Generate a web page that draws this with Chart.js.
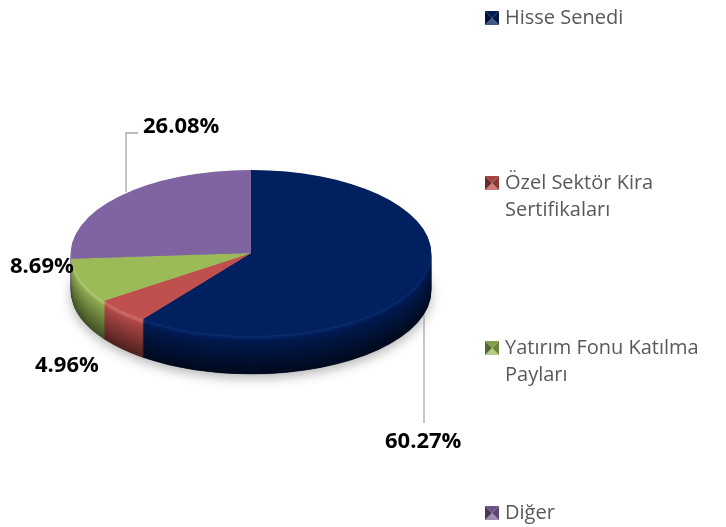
<!DOCTYPE html>
<html><head><meta charset="utf-8">
<script src="https://cdn.jsdelivr.net/npm/chart.js@4/dist/chart.umd.min.js"></script>
<style>html,body{margin:0;padding:0;background:#fff}#wrap{width:726px;height:527px;position:relative}</style>
</head><body><div id="wrap"><canvas id="c" width="726" height="527"></canvas></div>
<script>
// ---- data ----
const categories = ["Hisse Senedi", "Özel Sektör Kira Sertifikaları", "Yatırım Fonu Katılma Payları", "Diğer"];
const shares = [60.27, 4.96, 8.69, 26.08];
const colors = ["#002060", "#C0504D", "#9BBB59", "#8064A2"];

// ---- layout (not data) ----
const TILT = 83 / 180;      // vertical squash of the pie
const DEPTH = 38;           // thickness of the 3D side
const labelPos = [[385, 448], [35, 372], [10, 273], [143, 133]];
const leaders = [
  [[424, 315], [424, 423]],
  null,
  null,
  [[138, 133], [126, 133], [126, 192]]
];
const legendX = 485, legendTextX = 505, legendTop = 24, legendStep = 165, legendLine = 27, legendMaxW = 215;

function hexToRgb(h){h=h.replace('#','');return [0,2,4].map(i=>parseInt(h.substr(i,2),16));}
function shade(hex, f){
  const c = hexToRgb(hex);
  const r = c.map(v => f >= 0 ? Math.round(v + (255 - v) * f) : Math.round(v * (1 + f)));
  return 'rgb(' + r.join(',') + ')';
}
function sideFactor(t){
  if (t < 0.12) return 0.18 - t;           // thin highlight at top of rim
  return -(0.08 + 0.5 * (t - 0.12) / 0.88);
}

const pie3d = {
  id: 'pie3d',
  beforeDatasetsDraw(chart){
    const ctx = chart.ctx;
    const meta = chart.getDatasetMeta(0);
    const a0 = meta.data[0];
    const cx = a0.x, cy = a0.y, R = a0.outerRadius;
    // soft shadow under the pie
    ctx.save();
    ctx.translate(cx, cy + DEPTH);
    ctx.scale(1, TILT);
    ctx.shadowColor = 'rgba(0,0,0,0.30)';
    ctx.shadowBlur = 12;
    ctx.shadowOffsetY = 4;
    ctx.beginPath(); ctx.arc(0, 0, R, 0, Math.PI * 2);
    ctx.fillStyle = '#333'; ctx.fill();
    ctx.restore();
    // side layers
    for (let d = DEPTH; d >= 1; d--) {
      ctx.save();
      ctx.translate(cx, cy + d);
      ctx.scale(1, TILT);
      meta.data.forEach((arc, i) => {
        ctx.beginPath();
        ctx.moveTo(0, 0);
        ctx.arc(0, 0, arc.outerRadius, arc.startAngle, arc.endAngle);
        ctx.closePath();
        const c = i === 0 ? shade(colors[i], sideFactor(d / DEPTH) - 0.1) : shade(colors[i], sideFactor(d / DEPTH));
        ctx.fillStyle = c; ctx.strokeStyle = c; ctx.lineWidth = 0.6;
        ctx.fill(); ctx.stroke();
      });
      ctx.restore();
    }
    // squash the real top face
    ctx.save();
    ctx.translate(cx, cy);
    ctx.scale(1, TILT);
    ctx.translate(-cx, -cy);
  },
  afterDatasetsDraw(chart){
    chart.ctx.restore();
  },
  afterDraw(chart){
    const ctx = chart.ctx;
    // leader lines
    ctx.save();
    ctx.strokeStyle = '#A6A6A6'; ctx.lineWidth = 1.3;
    leaders.forEach(l => {
      if (!l) return;
      ctx.beginPath();
      l.forEach((p, j) => j ? ctx.lineTo(p[0], p[1]) : ctx.moveTo(p[0], p[1]));
      ctx.stroke();
    });
    // percentage labels
    ctx.fillStyle = '#000';
    ctx.font = 'bold 22px "Open Sans"';
    ctx.textAlign = 'left'; ctx.textBaseline = 'alphabetic';
    shares.forEach((v, i) => ctx.fillText(v.toFixed(2) + '%', labelPos[i][0], labelPos[i][1]));
    // legend
    ctx.font = '20px "Open Sans"';
    chart.data.labels.forEach((lab, i) => {
      const base = legendTop + i * legendStep;
      // wrap
      const words = lab.split(' ');
      const lines = []; let cur = '';
      words.forEach(w => {
        const t = cur ? cur + ' ' + w : w;
        if (ctx.measureText(t).width > legendMaxW && cur) { lines.push(cur); cur = w; } else cur = t;
      });
      lines.push(cur);
      // marker (bevelled square)
      const x = legendX, y = base - 13, s = 14, col = colors[i];
      const tri = (pts, c) => { ctx.beginPath(); ctx.moveTo(pts[0][0], pts[0][1]); pts.slice(1).forEach(p => ctx.lineTo(p[0], p[1])); ctx.closePath(); ctx.fillStyle = c; ctx.fill(); };
      const m = [x + s / 2, y + s / 2];
      tri([[x, y], [x + s, y], m], shade(col, -0.15));
      tri([[x, y + s], [x + s, y + s], m], shade(col, 0.25));
      tri([[x, y], [x, y + s], m], shade(col, -0.45));
      tri([[x + s, y], [x + s, y + s], m], shade(col, -0.3));
      ctx.fillStyle = '#595959';
      lines.forEach((ln, j) => ctx.fillText(ln, legendTextX, base + j * legendLine));
    });
    ctx.restore();
  }
};

new Chart(document.getElementById('c'), {
  type: 'pie',
  data: {
    labels: categories,
    datasets: [{ data: shares, backgroundColor: colors, borderWidth: 0, clip: false }]
  },
  options: {
    responsive: false,
    animation: false,
    devicePixelRatio: 1,
    layout: { padding: { left: 71, right: 295, top: 73, bottom: 94 } },
    plugins: { legend: { display: false }, tooltip: { enabled: false } },
    events: []
  },
  plugins: [pie3d]
});
</script>
</body></html>
